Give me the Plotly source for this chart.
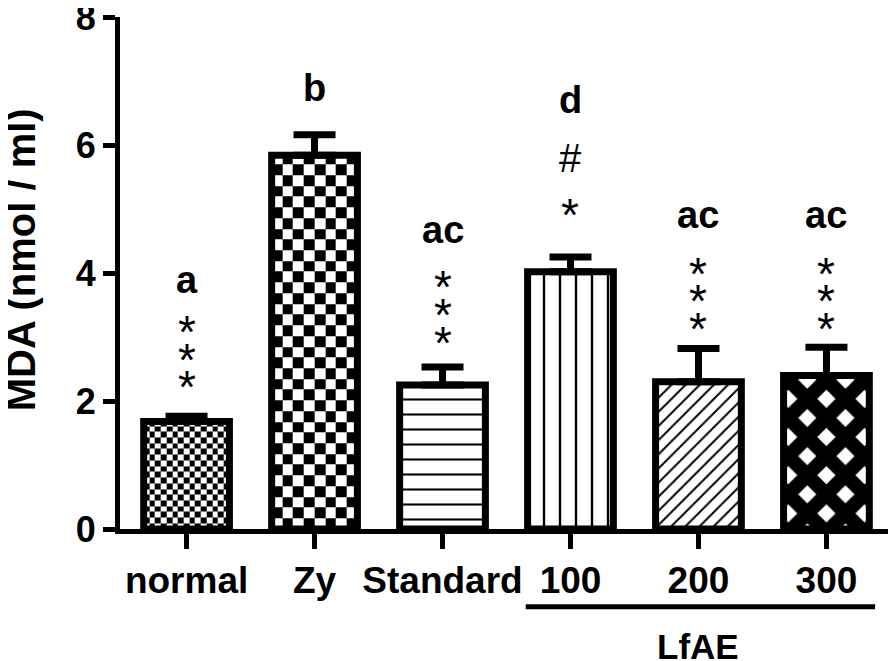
import numpy as np
import plotly.graph_objects as go

# ---------------- data ----------------
categories = ["normal", "Zy", "Standard", "100", "200", "300"]
mda_mean = [1.68, 5.84, 2.25, 4.02, 2.30, 2.40]
mda_sem = [0.08, 0.32, 0.28, 0.23, 0.52, 0.44]
group_letters = ["a", "b", "ac", "d", "ac", "ac"]
sig_marks = [["*", "*", "*"], [], ["*", "*", "*"], ["#", "*"], ["*", "*", "*"], ["*", "*", "*"]]
y_ticks = [0, 2, 4, 6, 8]
y_title = "MDA (nmol / ml)"
group_label = "LfAE"
group_members = ["100", "200", "300"]

# ---------------- layout / style ----------------
letter_y = [3.89, 6.89, 4.67, 6.70, 4.91, 4.91]
sig_y = [[3.19, 2.75, 2.33], [], [3.89, 3.45, 3.02], [5.80, 5.02],
         [4.09, 3.67, 3.23], [4.09, 3.67, 3.23]]
ASTERISK_SHIFT = -0.11   # asterisk glyph sits high in its text box
BAR_W = 0.67
XMIN, XMAX = -0.52, 5.52
YMAX = 8.0
FONT = "Liberation Sans, Arial, sans-serif"

x_pos = np.arange(len(categories))

fig = go.Figure()

# checkerboard fills (normal: fine, Zy: coarse) drawn as heatmaps under the bars
checker_cols = {0: 15, 1: 8}
for idx, ncols in checker_cols.items():
    left = x_pos[idx] - BAR_W / 2
    right = x_pos[idx] + BAR_W / 2
    dx = BAR_W / ncols
    dy = dx * 2.0  # keeps cells square on screen (x: 128 px/unit, y: 64 px/unit)
    xe = np.linspace(left, right, ncols + 1)
    ye = np.arange(0, mda_mean[idx], dy)
    ye = np.append(ye, mda_mean[idx])
    nr = len(ye) - 1
    z = np.fromfunction(lambda i, j: (i + j) % 2, (nr, ncols))
    fig.add_trace(go.Heatmap(
        x=xe, y=ye, z=z, zmin=0, zmax=1,
        colorscale=[[0, "white"], [1, "black"]],
        showscale=False, hoverinfo="skip", zsmooth=False,
    ))

# per-bar fill styles
bar_fill = ["rgba(0,0,0,0)", "rgba(0,0,0,0)", "white", "white", "white", "white"]
pat_shapes = [None, None, "-", "|", "/", "x"]
pat_sizes = [None, None, 15, 16, 10, 27]
pat_sol = [None, None, 0.14, 0.15, 0.2, 0.77]

for i in range(len(categories)):
    marker = dict(color=bar_fill[i], line=dict(color="black", width=7))
    if pat_shapes[i]:
        marker["pattern"] = dict(shape=pat_shapes[i], size=pat_sizes[i],
                                 solidity=pat_sol[i], fgcolor="black", fgopacity=1,
                                 bgcolor="white", fillmode="overlay")
    fig.add_trace(go.Bar(
        x=[x_pos[i]], y=[mda_mean[i]], width=BAR_W,
        marker=marker,
        error_y=dict(type="data", symmetric=False, array=[mda_sem[i]],
                     arrayminus=[0], color="black", thickness=7, width=21),
        hoverinfo="skip", showlegend=False,
    ))

annotations = []
for i, cat in enumerate(categories):
    annotations.append(dict(
        x=x_pos[i], y=letter_y[i], xref="x", yref="y", text=group_letters[i],
        showarrow=False, font=dict(family=FONT, size=38, color="black", weight="bold"),
        xanchor="center", yanchor="middle"))
    for m, yy in zip(sig_marks[i], sig_y[i]):
        annotations.append(dict(
            x=x_pos[i], y=yy + (ASTERISK_SHIFT if m == "*" else 0), xref="x", yref="y",
            text=m, showarrow=False,
            font=dict(family=FONT, size=46 if m == "*" else 40, color="black"),
            xanchor="center", yanchor="middle"))

# group bracket for LfAE
g_idx = [categories.index(c) for c in group_members]
g_left = x_pos[g_idx[0]] - 0.35
g_right = x_pos[g_idx[-1]] + 0.38
to_paper = lambda v: (v - XMIN) / (XMAX - XMIN)
annotations.append(dict(
    x=x_pos[g_idx[1]], y=-0.23, xref="x", yref="paper", text=group_label,
    showarrow=False, font=dict(family=FONT, size=35, color="black", weight="bold"),
    xanchor="center", yanchor="middle"))

# y-axis title
annotations.append(dict(
    x=-0.128, y=0.525, xref="paper", yref="paper", text=y_title, textangle=-90,
    showarrow=False, font=dict(family=FONT, size=40, color="black", weight="bold"),
    xanchor="center", yanchor="middle"))

# the page places the figure 8 px in from the window's top-left corner
fig.update_layout(
    width=896, height=661,
    margin=dict(l=112, r=11, t=9, b=140),
    paper_bgcolor="white", plot_bgcolor="white",
    font=dict(family=FONT, color="black"),
    showlegend=False, barmode="overlay",
    annotations=annotations,
    shapes=[dict(type="line", xref="paper", yref="paper",
                 x0=to_paper(g_left), x1=to_paper(g_right), y0=-0.152, y1=-0.152,
                 line=dict(color="black", width=5))],
    xaxis=dict(
        range=[XMIN, XMAX], tickvals=x_pos, ticktext=categories,
        showline=True, linecolor="black", linewidth=5,
        ticks="outside", ticklen=15, tickwidth=5, tickcolor="black",
        tickfont=dict(family=FONT, size=37, color="black", weight="bold"),
        showgrid=False, zeroline=False, automargin=False,
        ticklabeloverflow="allow",
    ),
    yaxis=dict(
        range=[0, YMAX], tickvals=y_ticks,
        showline=True, linecolor="black", linewidth=5,
        ticks="outside", ticklen=12, tickwidth=5, tickcolor="black",
        tickfont=dict(family=FONT, size=36, color="black", weight="bold"),
        showgrid=False, zeroline=False, automargin=False,
        ticklabeloverflow="allow",
    ),
)

fig.write_html("out.html")
